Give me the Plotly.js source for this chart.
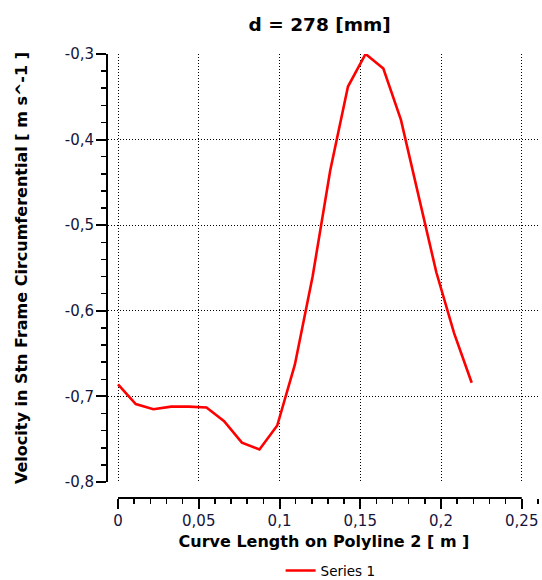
<!DOCTYPE html>
<html>
<head>
<meta charset="utf-8">
<script src="https://cdn.plot.ly/plotly-3.0.1.min.js"></script>
<style>html,body{margin:0;padding:0;background:#fff;}#chart{width:542px;height:580px;}</style>
</head>
<body>
<div id="chart"></div>
<script>
// Data
const curveLength = [0, 0.011, 0.0219, 0.0329, 0.0438, 0.0548, 0.0657, 0.0767, 0.0876, 0.0986,
                     0.1095, 0.1205, 0.1314, 0.1424, 0.1533, 0.1643, 0.1752, 0.1862, 0.1971, 0.2081, 0.219];
const velocity = [-0.686, -0.709, -0.715, -0.712, -0.712, -0.713, -0.729, -0.754, -0.762, -0.734,
                  -0.663, -0.560, -0.436, -0.338, -0.300, -0.317, -0.377, -0.465, -0.555, -0.626, -0.684];
const xTickVals = [0, 0.05, 0.1, 0.15, 0.2, 0.25];
const xTickText = ["0", "0,05", "0,1", "0,15", "0,2", "0,25"];
const yTickVals = [-0.8, -0.7, -0.6, -0.5, -0.4, -0.3];
const yTickText = ["-0,8", "-0,7", "-0,6", "-0,5", "-0,4", "-0,3"];
const seriesName = "Series 1";
const titleText = "d = 278 [mm]";
const xTitle = "Curve Length on Polyline 2 [ m ]";
const yTitle = "Velocity in Stn Frame Circumferential [ m s^-1 ]";

const FONT = "DejaVu Sans, Verdana, sans-serif";
const TICKCOL = "#14143c";

const trace = {
  x: curveLength, y: velocity, type: "scatter", mode: "lines", name: seriesName,
  line: {color: "#ff0000", width: 2.6}
};

const layout = {
  width: 542, height: 580,
  margin: {l: 108, r: 2, t: 54, b: 82},
  paper_bgcolor: "#ffffff", plot_bgcolor: "#ffffff",
  font: {family: FONT, color: "#000"},
  title: {
    text: titleText, font: {family: FONT, size: 18.5, weight: "bold", color: "#000"},
    xref: "paper", x: 0.49, xanchor: "center",
    yref: "container", y: 0.957, yanchor: "middle"
  },
  showlegend: true,
  legend: {
    orientation: "h", xref: "container", x: 0.61, xanchor: "center",
    yref: "container", y: 0.016, yanchor: "middle",
    font: {family: FONT, size: 13.5, color: "#000"}, bgcolor: "rgba(0,0,0,0)"
  },
  xaxis: {
    range: [-0.0062, 0.2613], anchor: "free", position: 0,
    showline: false, zeroline: false,
    tickmode: "array", tickvals: xTickVals, ticktext: xTickText,
    ticks: "outside", ticklen: 10, tickwidth: 2, tickcolor: "#000",
    ticklabelstandoff: -1,
    tickfont: {family: FONT, size: 15, color: TICKCOL},
    showgrid: true, gridcolor: "#000", gridwidth: 1, griddash: "1px,2px",
    minor: {tickmode: "linear", tick0: 0, dtick: 0.01, ticks: "outside", ticklen: 5, tickwidth: 1.5, tickcolor: "#000", showgrid: false},
    title: {text: xTitle, standoff: 6, font: {family: FONT, size: 16, weight: "bold", color: "#000"}}
  },
  yaxis: {
    range: [-0.8, -0.3], domain: [16/444, 1], anchor: "x",
    showline: true, linecolor: "#000", linewidth: 2, zeroline: false,
    tickmode: "array", tickvals: yTickVals, ticktext: yTickText,
    ticks: "outside", ticklen: 10, tickwidth: 2, tickcolor: "#000",
    ticklabelstandoff: -1,
    tickfont: {family: FONT, size: 15, color: TICKCOL},
    showgrid: true, gridcolor: "#000", gridwidth: 1, griddash: "1px,2px",
    minor: {tickmode: "linear", tick0: -0.8, dtick: 0.02, ticks: "outside", ticklen: 5, tickwidth: 1.5, tickcolor: "#000", showgrid: false},
    title: {text: yTitle, standoff: 33, font: {family: FONT, size: 16, weight: "bold", color: "#000"}}
  },
  shapes: [{
    type: "line", xref: "x", yref: "paper", x0: xTickVals[0], x1: xTickVals[xTickVals.length - 1], y0: 0, y1: 0,
    line: {color: "#000", width: 2}, layer: "above"
  }]
};

Plotly.newPlot("chart", [trace], layout, {displayModeBar: false, staticPlot: true});
</script>
</body>
</html>
